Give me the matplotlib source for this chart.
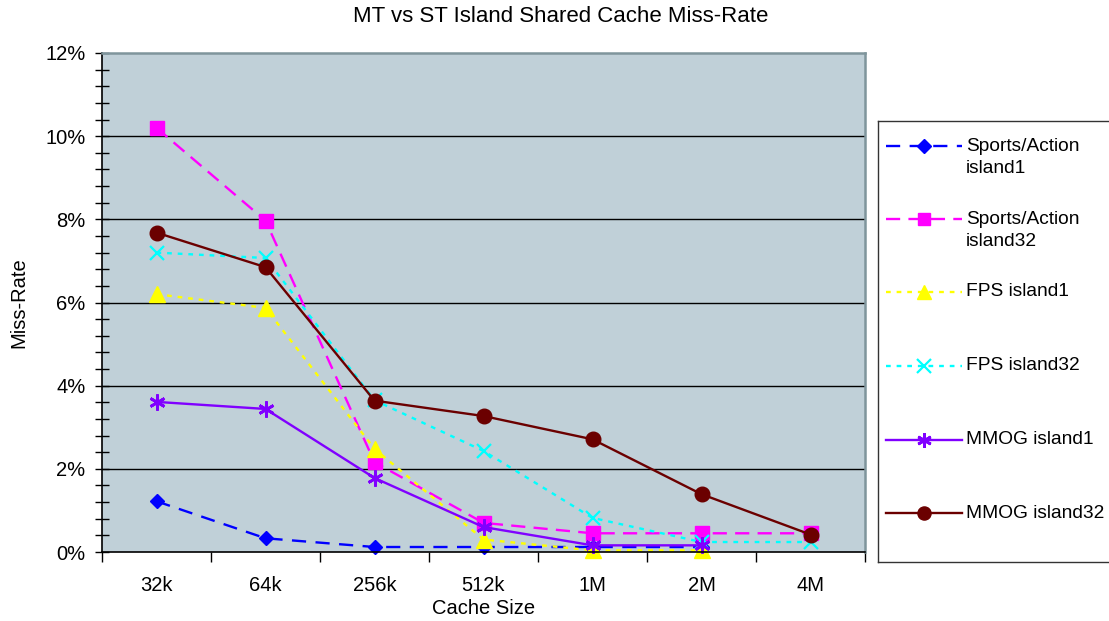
import numpy as np
import matplotlib
matplotlib.use("Agg")
import matplotlib.pyplot as plt
from matplotlib.lines import Line2D
from matplotlib.ticker import MultipleLocator, FuncFormatter

plt.rcParams["font.family"] = ["Liberation Sans", "DejaVu Sans"]

# miss rate (%) per cache size; NaN = not measured
cache_sizes = ["32k", "64k", "256k", "512k", "1M", "2M", "4M"]
sports_island1 = [1.22, 0.33, 0.12, 0.12, 0.12, 0.12, np.nan]
sports_island32 = [10.2, 7.97, 2.16, 0.70, 0.45, 0.45, 0.45]
fps_island1 = [6.20, 5.87, 2.48, 0.30, 0.04, 0.04, np.nan]
fps_island32 = [7.20, 7.07, 3.65, 2.43, 0.82, 0.24, 0.24]
mmog_island1 = [3.61, 3.44, 1.78, 0.60, 0.16, 0.16, np.nan]
mmog_island32 = [7.68, 6.85, 3.64, 3.27, 2.71, 1.39, 0.42]

labels = ["Sports/Action\nisland1", "Sports/Action\nisland32", "FPS island1",
          "FPS island32", "MMOG island1", "MMOG island32"]

FS = 14.5
ASTERISK = (6, 2, 0)
styles = [
    dict(color="#0000FF", dashes=(6, 4), marker="D", ms=7.6, lw=1.7),
    dict(color="#FF00FF", dashes=(6, 3.5), marker="s", ms=10, lw=1.7),
    dict(color="#FFFF00", dashes=(2, 2.5), marker="^", ms=11, lw=1.7),
    dict(color="#00FFFF", dashes=(2, 2.5), marker="x", ms=10.5, lw=1.7, mew=1.6),
    dict(color="#8000FF", dashes=(), marker=ASTERISK, ms=11.5, lw=1.7, mew=2.0),
    dict(color="#6B0000", dashes=(), marker="o", ms=10.5, lw=1.7),
]
series = [sports_island1, sports_island32, fps_island1, fps_island32,
          mmog_island1, mmog_island32]

W, H = 1109, 621
fig = plt.figure(figsize=(W / 100, H / 100), dpi=100)
ax = fig.add_axes([102 / W, 1 - 552 / H, (865 - 102) / W, (552 - 53) / H])
ax.set_facecolor("#C0D0D8")

x = np.arange(len(cache_sizes))
for vals, st in zip(series, styles):
    st = dict(st)
    dashes = st.pop("dashes")
    ms = st.pop("ms")
    mew = st.pop("mew", 1.0)
    line, = ax.plot(x, vals, markersize=ms, markeredgewidth=mew,
                    markeredgecolor=st["color"], markerfacecolor=st["color"],
                    clip_on=False, **st)
    if dashes:
        line.set_dashes(dashes)

ax.set_xlim(-0.5, len(cache_sizes) - 0.5)
ax.set_ylim(0, 12)
for g in range(2, 12, 2):
    ax.axhline(g, color="black", lw=1.0, zorder=0.5)

ax.yaxis.set_major_locator(MultipleLocator(2))
ax.yaxis.set_minor_locator(MultipleLocator(0.4))
ax.yaxis.set_major_formatter(FuncFormatter(lambda v, p: f"{v:.0f}%"))
ax.tick_params(axis="y", which="both", direction="inout", length=10, width=1,
               labelsize=FS, pad=7)

ax.set_xticks(x)
ax.set_xticklabels(cache_sizes)
ax.set_xticks(np.arange(-0.5, len(cache_sizes)), minor=True)
ax.tick_params(axis="x", which="major", length=0, labelsize=FS, pad=17)
ax.tick_params(axis="x", which="minor", direction="out", length=7, width=1)

for s in ("top", "right"):
    ax.spines[s].set_color("#7F959C")
    ax.spines[s].set_linewidth(1.8)
ax.spines["left"].set_linewidth(1.2)
ax.spines["bottom"].set_linewidth(1.2)

ax.set_xlabel("Cache Size", fontsize=FS, labelpad=3)
ax.set_ylabel("Miss-Rate", fontsize=FS, labelpad=12)
fig.text(0.506, 1 - 16 / H, "MT vs ST Island Shared Cache Miss-Rate",
         ha="center", va="center", fontsize=16)

# legend panel drawn in its own axes, coordinates in pixels
lx0, lx1, ly0, ly1 = 878, 1116, 121, 562
lax = fig.add_axes([lx0 / W, 1 - ly1 / H, (lx1 - lx0) / W, (ly1 - ly0) / H])
lax.set_xlim(lx0, lx1)
lax.set_ylim(ly1, ly0)
lax.set_xticks([])
lax.set_yticks([])
for s in lax.spines.values():
    s.set_linewidth(1.0)
    s.set_color("#333333")

LFS = 13.8
entry_y = [146, 219, 292, 366, 440, 513]
for lab, st, yy in zip(labels, styles, entry_y):
    st = dict(st)
    dashes = st.pop("dashes")
    ms = st.pop("ms")
    mew = st.pop("mew", 1.0)
    marker = st.pop("marker")
    ln = Line2D([886, 962], [yy, yy], **st)
    if dashes:
        ln.set_dashes(dashes)
    lax.add_line(ln)
    lax.plot([924], [yy], marker=marker, ms=ms * 0.9, mew=mew, color=st["color"],
             markeredgecolor=st["color"], ls="none")
    if "\n" in lab:
        lax.text(966, yy - 8, lab, ha="left", va="top", fontsize=LFS,
                 linespacing=1.4)
    else:
        lax.text(966, yy, lab, ha="left", va="center", fontsize=LFS)

fig.savefig("out.png", dpi=100)
